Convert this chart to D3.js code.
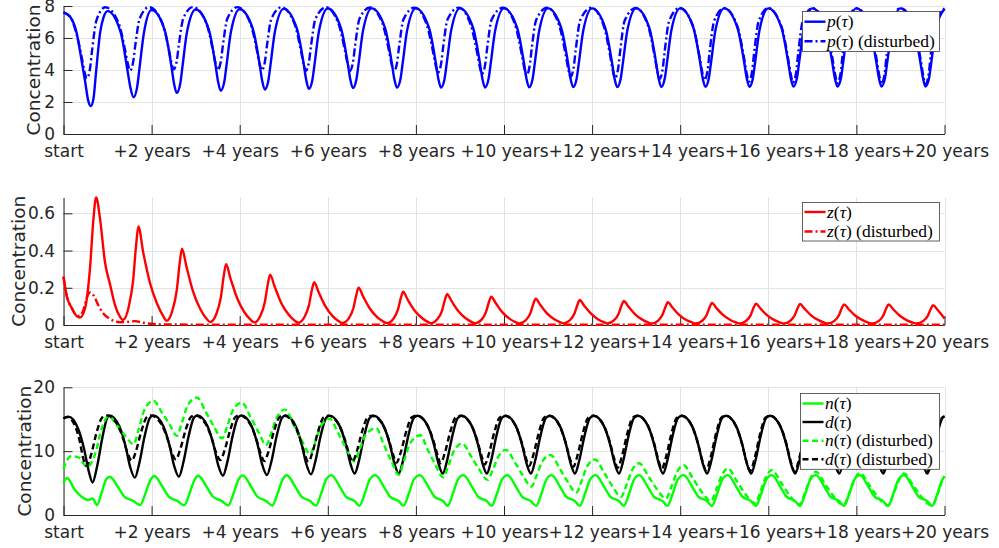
<!DOCTYPE html>
<html>
<head>
<meta charset="utf-8">
<script src="https://cdn.jsdelivr.net/npm/d3@7"></script>
<style>
  html, body { margin: 0; padding: 0; background: #fff; }
  svg { display: block; }
</style>
</head>
<body>
<svg id="chart" width="999" height="548"></svg>
<script>
// ---------------- data ----------------
const xTickYears = [0, 2, 4, 6, 8, 10, 12, 14, 16, 18, 20];
const xTickLabels = ["start", "+2 years", "+4 years", "+6 years", "+8 years", "+10 years",
  "+12 years", "+14 years", "+16 years", "+18 years", "+20 years"];
const pTicks = [0, 2, 4, 6, 8];
const zTicks = [0, 0.2, 0.4, 0.6];
const ndTicks = [0, 10, 20];

// phytoplankton p(tau), [years, concentration]
const pSolid = [
  [0,7.6],[0.15,7.33],[0.3,6.3],[0.41,4.6],[0.49,3.3],[0.56,2.1],[0.62,1.75],[0.68,2.2],[0.74,3.9],[0.83,6.3],[0.91,7.3],
  [1,7.68],[1.3,6.33],[1.45,4.02],[1.52,2.89],[1.59,2.3],[1.67,2.9],[1.72,3.99],[1.82,6.22],
  [2,7.75],[2.3,6.46],[2.45,4.23],[2.51,3.14],[2.57,2.57],[2.65,3.14],[2.7,4.19],[2.8,6.32],
  [3,7.78],[3.3,6.51],[3.45,4.33],[3.51,3.26],[3.57,2.7],[3.65,3.26],[3.7,4.28],[3.8,6.37],
  [4,7.8],[4.3,6.55],[4.45,4.39],[4.51,3.33],[4.57,2.78],[4.65,3.33],[4.7,4.34],[4.8,6.41],
  [5,7.82],[5.3,6.57],[5.45,4.43],[5.51,3.38],[5.57,2.83],[5.65,3.38],[5.7,4.38],[5.8,6.44],
  [6,7.84],[6.3,6.6],[6.45,4.46],[6.51,3.42],[6.57,2.87],[6.65,3.42],[6.7,4.41],[6.8,6.46],
  [7,7.85],[7.3,6.61],[7.45,4.48],[7.51,3.44],[7.57,2.9],[7.65,3.44],[7.7,4.43],[7.8,6.46],
  [8,7.85],[8.3,6.61],[8.45,4.48],[8.51,3.44],[8.57,2.9],[8.65,3.44],[8.7,4.43],[8.8,6.46],
  [9,7.85],[9.3,6.62],[9.45,4.49],[9.51,3.45],[9.57,2.91],[9.65,3.45],[9.7,4.44],[9.8,6.47],
  [10,7.85],[10.3,6.62],[10.45,4.5],[10.51,3.46],[10.57,2.92],[10.65,3.46],[10.7,4.45],[10.8,6.47],
  [11,7.85],[11.3,6.62],[11.45,4.5],[11.51,3.47],[11.57,2.93],[11.65,3.47],[11.7,4.46],[11.8,6.47],
  [12,7.85],[12.3,6.62],[12.45,4.5],[12.51,3.47],[12.57,2.93],[12.65,3.47],[12.7,4.46],[12.8,6.47],
  [13,7.85],[13.3,6.62],[13.45,4.51],[13.51,3.48],[13.57,2.94],[13.65,3.48],[13.7,4.46],[13.8,6.48],
  [14,7.85],[14.3,6.63],[14.45,4.52],[14.51,3.49],[14.57,2.95],[14.65,3.49],[14.7,4.47],[14.8,6.48],
  [15,7.85],[15.3,6.63],[15.45,4.52],[15.51,3.49],[15.57,2.95],[15.65,3.49],[15.7,4.47],[15.8,6.48],
  [16,7.85],[16.3,6.63],[16.45,4.52],[16.51,3.5],[16.57,2.96],[16.65,3.5],[16.7,4.48],[16.8,6.48],
  [17,7.85],[17.3,6.63],[17.45,4.52],[17.51,3.5],[17.57,2.96],[17.65,3.5],[17.7,4.48],[17.8,6.48],
  [18,7.85],[18.3,6.63],[18.45,4.53],[18.51,3.51],[18.57,2.97],[18.65,3.51],[18.7,4.48],[18.8,6.48],
  [19,7.85],[19.3,6.63],[19.45,4.53],[19.51,3.51],[19.57,2.97],[19.65,3.5],[19.7,4.47],[19.8,6.46],
  [20,7.82]
];
const pDist = [
  [0,7.6],[0.15,7.33],[0.3,6.2],[0.42,4.7],[0.48,3.85],[0.53,3.48],[0.6,4.06],[0.65,5.26],[0.75,7.12],
  [0.95,7.92],[1.25,6.93],[1.4,5.23],[1.46,4.4],[1.51,3.96],[1.58,4.48],[1.63,5.55],[1.73,7.22],
  [1.94,7.93],[2.24,6.96],[2.39,5.29],[2.45,4.47],[2.5,4.04],[2.57,4.55],[2.62,5.6],[2.72,7.23],
  [2.94,7.93],[3.24,6.95],[3.39,5.26],[3.45,4.43],[3.5,4.0],[3.57,4.51],[3.62,5.57],[3.72,7.22],
  [3.95,7.93],[4.24,6.94],[4.39,5.24],[4.45,4.41],[4.5,3.98],[4.57,4.49],[4.62,5.56],[4.72,7.21],
  [4.95,7.92],[5.24,6.92],[5.39,5.21],[5.45,4.38],[5.5,3.94],[5.57,4.46],[5.62,5.53],[5.72,7.2],
  [5.96,7.92],[6.24,6.92],[6.39,5.21],[6.45,4.38],[6.5,3.94],[6.57,4.46],[6.62,5.53],[6.72,7.2],
  [6.96,7.91],[7.24,6.91],[7.39,5.18],[7.45,4.34],[7.5,3.9],[7.57,4.42],[7.62,5.5],[7.72,7.18],
  [7.97,7.9],[8.24,6.88],[8.39,5.13],[8.45,4.28],[8.5,3.83],[8.57,4.36],[8.62,5.46],[8.72,7.17],
  [8.97,7.9],[9.24,6.86],[9.39,5.08],[9.45,4.21],[9.5,3.75],[9.57,4.29],[9.62,5.41],[9.72,7.15],
  [9.98,7.9],[10.25,6.84],[10.4,5.02],[10.46,4.14],[10.51,3.67],[10.58,4.22],[10.63,5.36],[10.73,7.13],
  [10.98,7.89],[11.25,6.81],[11.4,4.96],[11.46,4.05],[11.51,3.58],[11.58,4.14],[11.63,5.3],[11.73,7.11],
  [11.98,7.89],[12.26,6.79],[12.41,4.9],[12.47,3.98],[12.52,3.5],[12.59,4.07],[12.64,5.25],[12.74,7.09],
  [12.99,7.88],[13.27,6.77],[13.42,4.86],[13.48,3.93],[13.53,3.44],[13.6,4.02],[13.65,5.22],[13.75,7.08],
  [13.99,7.88],[14.29,6.75],[14.44,4.81],[14.5,3.87],[14.55,3.37],[14.62,3.96],[14.67,5.17],[14.77,7.06],
  [15,7.87],[15.3,6.72],[15.45,4.75],[15.51,3.78],[15.56,3.28],[15.63,3.88],[15.68,5.12],[15.78,7.04],
  [16,7.87],[16.3,6.71],[16.45,4.71],[16.51,3.73],[16.56,3.22],[16.63,3.82],[16.68,5.08],[16.78,7.03],
  [17,7.86],[17.31,6.69],[17.46,4.67],[17.52,3.68],[17.57,3.17],[17.64,3.78],[17.69,5.05],[17.79,7.02],
  [18,7.86],[18.31,6.68],[18.46,4.64],[18.52,3.64],[18.57,3.12],[18.64,3.74],[18.69,5.02],[18.79,7.01],
  [19,7.86],[19.31,6.67],[19.46,4.62],[19.52,3.62],[19.57,3.1],[19.64,3.72],[19.69,5.0],[19.79,6.99],
  [20,7.84]
];

// zooplankton z(tau)
const zSolid = [
  [0,0.26],[0.07,0.16],[0.19,0.09],[0.3,0.048],[0.375,0.04],[0.49,0.09],[0.6,0.3],[0.68,0.57],[0.74,0.685],
  [0.83,0.57],[0.94,0.34],[1.06,0.215],[1.17,0.107],[1.28,0.045],[1.35,0.027],
  [1.48,0.097],[1.58,0.238],[1.65,0.434],[1.7,0.53],[1.81,0.39],[1.97,0.22],[2.12,0.117],[2.27,0.045],[2.34,0.022],
  [2.47,0.076],[2.57,0.185],[2.64,0.336],[2.69,0.41],[2.79,0.315],[2.94,0.181],[3.11,0.083],[3.24,0.036],[3.33,0.016],
  [3.47,0.059],[3.57,0.146],[3.64,0.267],[3.69,0.326],[3.79,0.251],[3.94,0.145],[4.11,0.067],[4.24,0.03],[4.33,0.014],
  [4.47,0.05],[4.57,0.122],[4.64,0.221],[4.69,0.27],[4.79,0.208],[4.94,0.12],[5.11,0.056],[5.24,0.025],[5.33,0.012],
  [5.47,0.043],[5.57,0.104],[5.64,0.189],[5.69,0.23],[5.79,0.177],[5.94,0.103],[6.11,0.048],[6.24,0.022],[6.33,0.011],
  [6.48,0.037],[6.58,0.09],[6.65,0.164],[6.7,0.2],[6.8,0.154],[6.95,0.09],[7.12,0.042],[7.25,0.02],[7.34,0.01],
  [7.49,0.034],[7.59,0.081],[7.66,0.147],[7.71,0.179],[7.81,0.138],[7.96,0.081],[8.13,0.039],[8.26,0.018],[8.34,0.01],
  [8.49,0.032],[8.59,0.075],[8.66,0.136],[8.71,0.165],[8.81,0.128],[8.96,0.075],[9.13,0.036],[9.26,0.017],[9.34,0.009],
  [9.49,0.029],[9.59,0.069],[9.66,0.125],[9.71,0.152],[9.81,0.118],[9.96,0.069],[10.13,0.033],[10.26,0.016],[10.35,0.009],
  [10.5,0.027],[10.6,0.064],[10.67,0.116],[10.72,0.141],[10.82,0.109],[10.97,0.064],[11.14,0.031],[11.27,0.016],[11.35,0.009],
  [11.5,0.027],[11.6,0.062],[11.67,0.11],[11.72,0.134],[11.82,0.104],[11.97,0.062],[12.14,0.03],[12.27,0.015],[12.35,0.009],
  [12.5,0.026],[12.6,0.059],[12.67,0.106],[12.72,0.129],[12.82,0.1],[12.97,0.059],[13.14,0.029],[13.27,0.014],[13.35,0.008],
  [13.5,0.024],[13.6,0.056],[13.67,0.1],[13.72,0.122],[13.82,0.095],[13.97,0.056],[14.14,0.027],[14.27,0.014],[14.35,0.008],
  [14.5,0.023],[14.6,0.054],[14.67,0.097],[14.72,0.118],[14.82,0.092],[14.97,0.054],[15.14,0.027],[15.27,0.014],[15.35,0.008],
  [15.5,0.023],[15.6,0.053],[15.67,0.095],[15.72,0.115],[15.82,0.089],[15.97,0.053],[16.14,0.026],[16.27,0.013],[16.35,0.008],
  [16.5,0.023],[16.6,0.052],[16.67,0.093],[16.72,0.113],[16.82,0.088],[16.97,0.052],[17.14,0.026],[17.27,0.013],[17.35,0.008],
  [17.5,0.022],[17.6,0.051],[17.67,0.091],[17.72,0.111],[17.82,0.086],[17.97,0.051],[18.14,0.026],[18.27,0.013],[18.36,0.008],
  [18.51,0.022],[18.61,0.051],[18.68,0.091],[18.73,0.11],[18.83,0.086],[18.98,0.051],[19.15,0.025],[19.28,0.013],[19.36,0.008],
  [19.52,0.022],[19.62,0.049],[19.69,0.087],[19.74,0.106],[19.84,0.082],[20,0.035]
];
const zDist = [
  [0,0.26],[0.07,0.16],[0.19,0.09],[0.3,0.05],[0.36,0.048],[0.45,0.08],[0.54,0.155],[0.6,0.175],[0.68,0.16],
  [0.79,0.107],[0.9,0.063],[1.06,0.032],[1.28,0.015],[1.47,0.017],[1.62,0.021],[1.81,0.012],[2.04,0.005],
  [2.34,0.003],[3,0.002],[5,0.001],[20,0.001]
];

// nutrients n(tau) and detritus d(tau)
const nSolid = [
  [0,5.0],[0.08,5.8],[0.26,3.9],[0.41,2.87],[0.56,2.35],[0.66,2.6],[0.76,1.56],[0.87,3.6],[0.97,5.6],
  [1.05,6.0],[1.25,4.22],[1.38,2.89],[1.58,2.23],[1.74,1.56],[1.86,3.38],[1.97,5.42],
  [2.06,6.1],[2.26,4.26],[2.39,2.88],[2.59,2.19],[2.74,1.5],[2.86,3.36],[2.97,5.45],
  [3.06,6.15],[3.26,4.29],[3.39,2.9],[3.59,2.2],[3.74,1.5],[3.86,3.38],[3.97,5.5],
  [4.07,6.2],[4.27,4.31],[4.4,2.9],[4.6,2.19],[4.74,1.48],[4.86,3.38],[4.97,5.51],
  [5.07,6.22],[5.27,4.32],[5.4,2.9],[5.6,2.18],[5.73,1.47],[5.85,3.38],[5.96,5.53],
  [6.08,6.25],[6.28,4.33],[6.41,2.89],[6.61,2.17],[6.72,1.45],[6.84,3.37],[6.95,5.53],
  [7.08,6.25],[7.28,4.33],[7.41,2.89],[7.61,2.17],[7.72,1.45],[7.84,3.37],[7.95,5.53],
  [8.09,6.25],[8.29,4.33],[8.42,2.89],[8.62,2.17],[8.72,1.44],[8.84,3.36],[8.95,5.52],
  [9.08,6.25],[9.28,4.33],[9.41,2.89],[9.61,2.17],[9.72,1.44],[9.84,3.36],[9.95,5.52],
  [10.08,6.25],[10.28,4.33],[10.41,2.89],[10.61,2.17],[10.73,1.44],[10.85,3.36],[10.96,5.52],
  [11.08,6.25],[11.28,4.33],[11.41,2.89],[11.61,2.17],[11.72,1.43],[11.84,3.36],[11.95,5.52],
  [12.08,6.25],[12.28,4.33],[12.41,2.89],[12.61,2.17],[12.72,1.43],[12.84,3.36],[12.95,5.52],
  [13.07,6.25],[13.27,4.33],[13.4,2.89],[13.6,2.17],[13.71,1.43],[13.83,3.36],[13.94,5.52],
  [14.08,6.25],[14.28,4.33],[14.41,2.89],[14.61,2.17],[14.72,1.42],[14.84,3.35],[14.95,5.52],
  [15.08,6.25],[15.28,4.33],[15.41,2.89],[15.61,2.17],[15.72,1.42],[15.84,3.35],[15.95,5.52],
  [16.08,6.25],[16.28,4.33],[16.41,2.89],[16.61,2.17],[16.72,1.42],[16.84,3.35],[16.95,5.52],
  [17.08,6.25],[17.28,4.33],[17.41,2.89],[17.61,2.17],[17.72,1.42],[17.84,3.35],[17.95,5.52],
  [18.08,6.25],[18.28,4.33],[18.41,2.89],[18.61,2.17],[18.72,1.42],[18.84,3.35],[18.95,5.52],
  [19.08,6.25],[19.28,4.33],[19.41,2.89],[19.61,2.17],[19.72,1.42],[19.84,3.35],[19.95,5.52],
  [20,6.1]
];
const dSolid = [
  [0,15.1],[0.11,15.4],[0.33,13.55],[0.47,10.25],[0.57,6.95],[0.66,5.1],[0.76,7.52],[0.88,12.03],[0.99,15.18],
  [1.04,15.6],[1.27,13.85],[1.41,10.73],[1.51,7.61],[1.62,5.85],[1.72,8.09],[1.84,12.29],[1.96,15.21],
  [2.04,15.6],[2.27,13.87],[2.41,10.8],[2.51,7.73],[2.62,6.0],[2.72,8.21],[2.84,12.34],[2.96,15.22],
  [3.04,15.6],[3.27,13.9],[3.41,10.88],[3.51,7.85],[3.62,6.15],[3.72,8.32],[3.84,12.39],[3.96,15.22],
  [4.04,15.6],[4.27,13.92],[4.41,10.93],[4.51,7.94],[4.62,6.26],[4.72,8.4],[4.84,12.41],[4.96,15.21],
  [5.04,15.58],[5.27,13.92],[5.41,10.98],[5.51,8.03],[5.62,6.37],[5.72,8.48],[5.84,12.44],[5.96,15.19],
  [6.04,15.56],[6.27,13.92],[6.41,11.03],[6.51,8.13],[6.61,6.5],[6.71,8.58],[6.83,12.47],[6.95,15.19],
  [7.04,15.55],[7.27,13.92],[7.41,11.03],[7.51,8.13],[7.61,6.5],[7.71,8.58],[7.83,12.47],[7.95,15.19],
  [8.04,15.55],[8.27,13.92],[8.41,11.03],[8.51,8.13],[8.61,6.5],[8.71,8.58],[8.83,12.47],[8.95,15.19],
  [9.04,15.55],[9.27,13.92],[9.41,11.03],[9.51,8.13],[9.61,6.5],[9.71,8.58],[9.83,12.47],[9.95,15.19],
  [10.04,15.55],[10.27,13.92],[10.41,11.03],[10.51,8.13],[10.61,6.5],[10.71,8.58],[10.83,12.47],[10.95,15.19],
  [11.04,15.55],[11.27,13.92],[11.41,11.03],[11.51,8.13],[11.61,6.5],[11.71,8.58],[11.83,12.47],[11.95,15.19],
  [12.04,15.55],[12.27,13.92],[12.41,11.03],[12.51,8.13],[12.61,6.5],[12.71,8.58],[12.83,12.47],[12.95,15.19],
  [13.04,15.55],[13.27,13.92],[13.41,11.03],[13.51,8.13],[13.61,6.5],[13.71,8.58],[13.83,12.47],[13.95,15.19],
  [14.04,15.55],[14.27,13.92],[14.41,11.03],[14.51,8.13],[14.61,6.5],[14.71,8.58],[14.83,12.47],[14.95,15.19],
  [15.04,15.55],[15.27,13.92],[15.41,11.03],[15.51,8.13],[15.61,6.5],[15.71,8.58],[15.83,12.47],[15.95,15.19],
  [16.04,15.55],[16.27,13.92],[16.41,11.03],[16.51,8.13],[16.61,6.5],[16.71,8.58],[16.83,12.47],[16.95,15.19],
  [17.04,15.55],[17.27,13.92],[17.41,11.03],[17.51,8.13],[17.61,6.5],[17.71,8.58],[17.83,12.47],[17.95,15.19],
  [18.04,15.55],[18.27,13.92],[18.41,11.03],[18.51,8.13],[18.61,6.5],[18.71,8.58],[18.83,12.47],[18.95,15.19],
  [19.04,15.55],[19.27,13.92],[19.41,11.03],[19.51,8.13],[19.61,6.5],[19.71,8.58],[19.83,12.47],[19.95,15.19],
  [20,15.45]
];
const nDist = [
  [0,7.2],[0.08,8.6],[0.19,9.25],[0.3,9.1],[0.375,8.9],[0.46,8.0],[0.54,7.55],[0.72,9.6],[0.87,13.6],
  [1.02,15.5],[1.22,13.96],[1.4,12.42],[1.59,11.1],[1.71,13.48],[1.84,16.54],
  [2.04,17.9],[2.24,15.98],[2.42,14.05],[2.57,12.4],[2.69,14.5],[2.82,17.2],
  [3.03,18.4],[3.23,16.16],[3.41,13.92],[3.6,12.0],[3.72,13.96],[3.85,16.48],
  [4.05,17.6],[4.25,15.27],[4.43,12.95],[4.6,10.95],[4.72,12.89],[4.85,15.39],
  [5.03,16.5],[5.23,14.07],[5.41,11.64],[5.6,9.55],[5.72,11.49],[5.85,13.99],
  [6.04,15.1],[6.24,12.76],[6.42,10.41],[6.6,8.4],[6.72,10.22],[6.86,12.56],
  [7.1,13.6],[7.27,11.05],[7.44,8.49],[7.61,6.3],[7.73,8.47],[7.87,11.26],
  [8.1,12.5],[8.27,10.19],[8.44,7.88],[8.62,5.9],[8.74,7.76],[8.87,10.14],
  [9.05,11.2],[9.25,9.21],[9.43,7.21],[9.63,5.5],[9.75,7.15],[9.88,9.26],
  [10.05,10.2],[10.25,8.19],[10.43,6.18],[10.62,4.45],[10.74,6.18],[10.87,8.41],
  [11.06,9.4],[11.26,7.34],[11.44,5.27],[11.64,3.5],[11.76,5.32],[11.89,7.66],
  [12.07,8.7],[12.27,6.65],[12.45,4.61],[12.66,2.85],[12.78,4.69],[12.91,7.05],
  [13.07,8.1],[13.27,6.18],[13.45,4.25],[13.68,2.6],[13.8,4.42],[13.93,6.76],
  [14.08,7.8],[14.28,5.84],[14.46,3.88],[14.7,2.2],[14.82,3.99],[14.95,6.28],
  [15.08,7.3],[15.28,5.39],[15.46,3.47],[15.7,1.83],[15.82,3.66],[15.95,6.01],
  [16.08,7.05],[16.28,5.17],[16.46,3.28],[16.71,1.67],[16.83,3.47],[16.96,5.77],
  [17.08,6.8],[17.28,4.97],[17.46,3.13],[17.71,1.56],[17.83,3.32],[17.96,5.59],
  [18.08,6.6],[18.28,4.82],[18.46,3.03],[18.72,1.5],[18.84,3.25],[18.97,5.5],
  [19.08,6.5],[19.28,4.73],[19.46,2.97],[19.72,1.45],[19.84,3.2],[19.95,5.4],
  [20,6.0]
];
const dDist = [
  [0,15.1],[0.08,15.35],[0.26,13.97],[0.37,11.53],[0.44,9.08],[0.52,7.7],[0.63,9.52],[0.75,12.91],[0.88,15.28],
  [0.98,15.6],[1.21,14.32],[1.35,12.05],[1.45,9.78],[1.55,8.5],[1.65,10.13],[1.77,13.19],[1.89,15.32],
  [1.98,15.6],[2.21,14.36],[2.35,12.15],[2.45,9.94],[2.55,8.7],[2.65,10.29],[2.77,13.25],[2.89,15.32],
  [2.99,15.6],[3.22,14.34],[3.36,12.1],[3.46,9.86],[3.56,8.6],[3.66,10.21],[3.78,13.22],[3.9,15.32],
  [4.0,15.6],[4.23,14.31],[4.37,12.03],[4.47,9.74],[4.56,8.45],[4.66,10.09],[4.78,13.16],[4.9,15.29],
  [5.0,15.58],[5.23,14.28],[5.37,11.97],[5.47,9.65],[5.56,8.35],[5.66,10.01],[5.78,13.11],[5.9,15.27],
  [6.01,15.56],[6.24,14.26],[6.38,11.96],[6.48,9.65],[6.56,8.35],[6.66,10.01],[6.78,13.1],[6.9,15.26],
  [7.01,15.55],[7.24,14.23],[7.38,11.88],[7.48,9.52],[7.56,8.2],[7.66,9.89],[7.78,13.05],[7.9,15.26],
  [8.02,15.55],[8.25,14.21],[8.39,11.83],[8.49,9.44],[8.56,8.1],[8.66,9.81],[8.78,13.02],[8.9,15.25],
  [9.02,15.55],[9.25,14.17],[9.39,11.73],[9.49,9.28],[9.56,7.9],[9.66,9.66],[9.78,12.95],[9.9,15.24],
  [10.02,15.55],[10.25,14.14],[10.39,11.63],[10.49,9.11],[10.57,7.7],[10.67,9.51],[10.79,12.88],[10.91,15.24],
  [11.02,15.55],[11.25,14.11],[11.39,11.55],[11.49,8.99],[11.57,7.55],[11.67,9.39],[11.79,12.83],[11.91,15.23],
  [12.03,15.55],[12.26,14.08],[12.4,11.48],[12.5,8.87],[12.58,7.4],[12.68,9.27],[12.8,12.78],[12.92,15.22],
  [13.03,15.55],[13.26,14.06],[13.4,11.4],[13.5,8.75],[13.58,7.25],[13.68,9.16],[13.8,12.73],[13.92,15.22],
  [14.03,15.55],[14.26,14.02],[14.4,11.3],[14.5,8.58],[14.59,7.05],[14.69,9.01],[14.81,12.66],[14.93,15.21],
  [15.03,15.55],[15.26,13.99],[15.4,11.23],[15.5,8.46],[15.59,6.9],[15.69,8.89],[15.81,12.61],[15.93,15.2],
  [16.04,15.55],[16.27,13.98],[16.41,11.18],[16.51,8.38],[16.6,6.8],[16.7,8.81],[16.82,12.58],[16.94,15.2],
  [17.04,15.55],[17.27,13.96],[17.41,11.13],[17.51,8.29],[17.6,6.7],[17.7,8.74],[17.82,12.54],[17.94,15.2],
  [18.04,15.55],[18.27,13.95],[18.41,11.1],[18.51,8.25],[18.6,6.65],[18.7,8.7],[18.82,12.52],[18.94,15.19],
  [19.04,15.55],[19.27,13.94],[19.41,11.08],[19.51,8.21],[19.6,6.6],[19.7,8.66],[19.82,12.51],[19.94,15.19],
  [20,15.45]
];

// ---------------- drawing ----------------
const svg = d3.select("#chart");
const AXIS = "#262626";
const GRID = "#e3e3e3";
const TICK_FONT = "'DejaVu Sans', sans-serif";
const LEG_FONT = "'Liberation Serif', 'Times New Roman', serif";
const SOLID = null, DASHDOT = "8,3,2,3", DASHED = "6,3.5";
const LW = 2.4;

const x = d3.scaleLinear().domain([0, 20]).range([63.5, 944.5]);

const panels = [
  {
    yDomain: [0, 8], yRange: [134, 6], ticks: pTicks, fmt: d => String(d), labelX: 40,
    series: [
      { data: pSolid, color: "#0000ff", dash: SOLID, name: "p", disturbed: false },
      { data: pDist, color: "#0000ff", dash: DASHDOT, name: "p", disturbed: true }
    ],
    legend: { x0: 802.5, y0: 11.5, x1: 939.5, rowY: [21.7, 41.2] }
  },
  {
    yDomain: [0, 0.685], yRange: [325, 197.5], ticks: zTicks, fmt: d => d === 0 ? "0" : d.toFixed(1), labelX: 25,
    series: [
      { data: zSolid, color: "#ff0000", dash: SOLID, name: "z", disturbed: false },
      { data: zDist, color: "#ff0000", dash: DASHDOT, name: "z", disturbed: true }
    ],
    legend: { x0: 802.5, y0: 202.5, x1: 939.5, rowY: [212, 231.5] }
  },
  {
    yDomain: [0, 20], yRange: [515, 387.3], ticks: ndTicks, fmt: d => String(d), labelX: 30.5,
    series: [
      { data: nSolid, color: "#00ff00", dash: SOLID, name: "n", disturbed: false },
      { data: dSolid, color: "#000000", dash: SOLID, name: "d", disturbed: false },
      { data: nDist, color: "#00ff00", dash: DASHED, name: "n", disturbed: true },
      { data: dDist, color: "#000000", dash: DASHED, name: "d", disturbed: true }
    ],
    legend: { x0: 800.5, y0: 393.5, x1: 939.5, rowY: [403.5, 422, 440.7, 459.3] }
  }
];

panels.forEach(pn => {
  const y = d3.scaleLinear().domain(pn.yDomain).range(pn.yRange);
  const g = svg.append("g");
  const yTop = pn.yRange[1], yBot = pn.yRange[0];

  // grid
  g.append("g").selectAll("line").data(xTickYears).join("line")
    .attr("x1", d => Math.round(x(d)) + 0.5).attr("x2", d => Math.round(x(d)) + 0.5)
    .attr("y1", yTop).attr("y2", yBot)
    .attr("stroke", GRID).attr("stroke-width", 1);
  g.append("g").selectAll("line").data(pn.ticks).join("line")
    .attr("x1", x(0)).attr("x2", x(20))
    .attr("y1", d => Math.round(y(d)) + 0.5).attr("y2", d => Math.round(y(d)) + 0.5)
    .attr("stroke", GRID).attr("stroke-width", 1);

  // axes (ticks pointing inward)
  const xAxis = d3.axisBottom(x).tickValues(xTickYears)
    .tickFormat((d, i) => xTickLabels[i]).tickSizeInner(-9).tickSizeOuter(0).tickPadding(11);
  const gx = g.append("g").attr("transform", `translate(0,${yBot})`).call(xAxis);
  gx.select(".domain").attr("stroke", AXIS);
  gx.selectAll(".tick line").attr("stroke", AXIS);
  gx.selectAll("text").attr("fill", AXIS).style("font-family", TICK_FONT).style("font-size", "17px");

  const yAxis = d3.axisLeft(y).tickValues(pn.ticks).tickFormat(pn.fmt)
    .tickSizeInner(-9).tickSizeOuter(0).tickPadding(8.5);
  const gy = g.append("g").attr("transform", `translate(${x(0)},0)`).call(yAxis);
  gy.select(".domain").attr("stroke", AXIS);
  gy.selectAll(".tick line").attr("stroke", AXIS);
  gy.selectAll("text").attr("fill", AXIS).style("font-family", TICK_FONT).style("font-size", "17px");

  // y label
  g.append("text")
    .attr("transform", `translate(${pn.labelX},${(yTop + yBot) / 2}) rotate(-90)`)
    .attr("text-anchor", "middle")
    .attr("fill", AXIS)
    .style("font-family", TICK_FONT).style("font-size", "18.5px")
    .text("Concentration");

  // curves
  const line = d3.line().x(d => x(d[0])).y(d => y(d[1])).curve(d3.curveMonotoneX);
  pn.series.forEach(s => {
    g.append("path").datum(s.data)
      .attr("d", line)
      .attr("fill", "none")
      .attr("stroke", s.color)
      .attr("stroke-width", LW)
      .attr("stroke-linejoin", "round")
      .attr("stroke-dasharray", s.dash);
  });

  // legend
  const L = pn.legend;
  const lg = g.append("g");
  lg.append("rect")
    .attr("x", L.x0).attr("y", L.y0)
    .attr("width", L.x1 - L.x0).attr("height", L.rowY[L.rowY.length - 1] - L.y0 + (L.rowY[0] - L.y0))
    .attr("fill", "#fff").attr("stroke", "#3c3c3c").attr("stroke-width", 0.8);
  pn.series.forEach((s, i) => {
    const ry = L.rowY[i];
    lg.append("line")
      .attr("x1", L.x0 + 2).attr("x2", L.x0 + 23)
      .attr("y1", ry).attr("y2", ry)
      .attr("stroke", s.color).attr("stroke-width", LW)
      .attr("stroke-dasharray", s.dash);
    const t = lg.append("text")
      .attr("x", L.x0 + 24.5).attr("y", ry + 5.5)
      .attr("fill", "#000")
      .style("font-family", LEG_FONT).style("font-size", "17.5px");
    t.append("tspan").style("font-style", "italic").text(s.name);
    t.append("tspan").text("(");
    t.append("tspan").style("font-style", "italic").text("\u03C4");
    t.append("tspan").text(")");
    if (s.disturbed) t.append("tspan").text(" (disturbed)");
  });
});
</script>
</body>
</html>
